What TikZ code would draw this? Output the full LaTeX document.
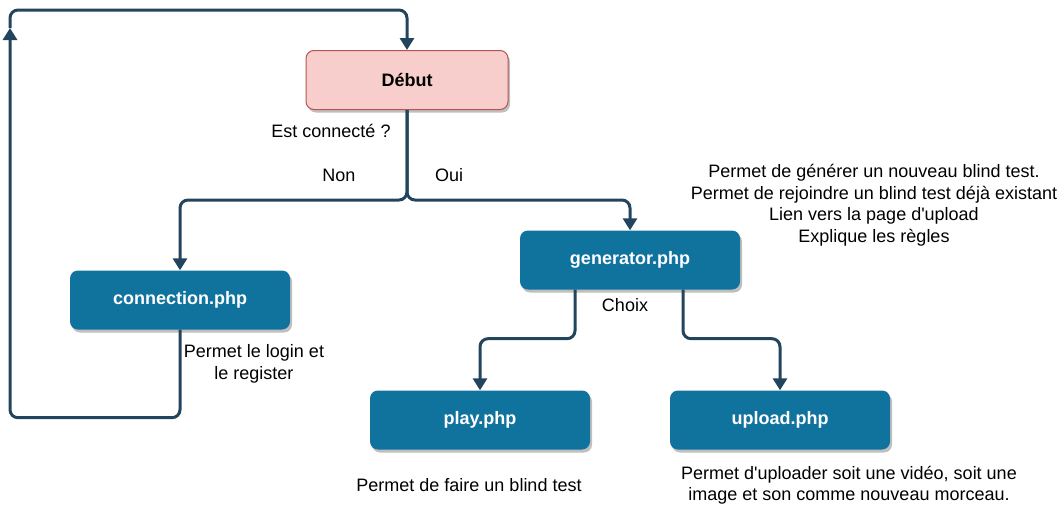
\documentclass[tikz,border=0pt]{standalone}
\usepackage{fontspec}
\setmainfont{Liberation Sans}
\usepackage{xcolor}
\usetikzlibrary{shadows,arrows.meta}

\definecolor{pageblue}{HTML}{10739E}
\definecolor{startfill}{HTML}{F8CECC}
\definecolor{startline}{HTML}{B85450}
\definecolor{linkcol}{HTML}{23445D}

\tikzset{
  page/.style={rounded corners=8pt, fill=pageblue, text=white,
    minimum width=220pt, minimum height=59pt,
    font=\fontsize{18}{21.5}\selectfont\bfseries,
    drop shadow={shadow xshift=2pt, shadow yshift=-3pt, fill=black, opacity=0.25}},
  startbox/.style={page, fill=startfill, draw=startline, line width=1pt,
    text=black, minimum width=202pt},
  note/.style={align=center, inner sep=1pt, font=\fontsize{18}{21.5}\selectfont},
  link/.style={draw=linkcol, line width=3pt, rounded corners=8pt,
    -{Triangle[length=12pt,width=14pt]}}
}

\begin{document}
\begin{tikzpicture}[x=1pt, y=-1pt]
  % Fix the page size
  \useasboundingbox (0,0) rectangle (1060,520);

  % Draw the pages
  \node[startbox] (debut) at (407,80) {Début};
  \node[page] (connection) at (180,300) {connection.php};
  \node[page] (generator) at (630,260) {generator.php};
  \node[page] (play) at (480,420) {play.php};
  \node[page] (upload) at (780,420) {upload.php};

  % Split points of the links
  \coordinate (split) at (407,200);
  \coordinate (loop) at (10,28);

  % Draw the links
  \draw[link] (debut.south) -- (split) -| (connection.north);
  \draw[link] (debut.south) -- (split) -| (generator.north);
  \draw[link] ([xshift=-55pt]generator.south) -- ++(0,49) -| (play.north);
  \draw[link] ([xshift=53pt]generator.south) -- ++(0,49) -| (upload.north);
  \draw[link] (connection.south) -- ++(0,88) -| (loop);
  \draw[link] (loop) -- ++(0,-18) -| (debut.north);

  % Add the texts
  \node[note] (ask) at (331,131) {Est connecté ?};
  \node[note] (non) at (339,175) {Non};
  \node[note] (oui) at (449,175) {Oui};
  \node[note] (choix) at (625,305) {Choix};
  \node[note] (login) at (254,364) {Permet le login et\\le register};
  \node[note] (gentext) at (874,205) {Permet de générer un nouveau blind test.\\Permet de rejoindre un blind test déjà existant\\Lien vers la page d\textquotesingle upload\\Explique les règles};
  \node[note] (playtext) at (469,485) {Permet de faire un blind test};
  \node[note] (uploadtext) at (849,485) {Permet d\textquotesingle uploader soit une vidéo, soit une\\image et son comme nouveau morceau.};
\end{tikzpicture}
\end{document}
